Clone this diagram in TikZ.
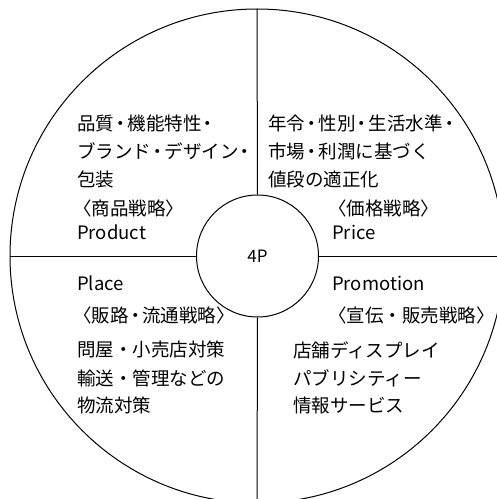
\documentclass[tikz,border=0pt]{standalone}
\usepackage{fontspec}
\setmainfont{Noto Sans CJK JP}
\newcommand\tdot{\kern-2.6pt・\kern-2.6pt}
\begin{document}
\begin{tikzpicture}[x=1pt,y=-1pt,
  ring/.style={draw,circle,line width=1pt,inner sep=0pt},
  divider/.style={line width=1pt},
  txt/.style={anchor=west,inner sep=0pt,font=\fontsize{18.5}{20}\selectfont}]
\useasboundingbox (0,0) rectangle (497,499);
\clip (0,0) rectangle (497,499);
\fill[white] (0,0) rectangle (497,499);
\node[ring,minimum size=494pt] (big) at (257,256) {};
\node[ring,minimum size=122pt,font=\fontsize{17}{20}\selectfont] (hub) at (257.5,256) {4P};
\draw[divider] (big.north) -- (hub.north);
\draw[divider] (hub.south) -- (big.south);
\draw[divider] (big.west) -- (hub.west);
\draw[divider] (hub.east) -- (big.east);
% Product
\node[txt] (p1) at (77,123) {品質\tdot 機能特性\tdot};
\node[txt] (p2) at (77,151) {ブランド\tdot デザイン\tdot};
\node[txt] (p3) at (77,179) {包装};
\node[txt] (p4) at (73,208) {〈商品戦略〉};
\node[txt] (p5) at (77,232) {Product};
% Price
\node[txt] (r1) at (268,123) {年令\tdot 性別\tdot 生活水準\tdot};
\node[txt] (r2) at (268,151) {市場\tdot 利潤に基づく};
\node[txt] (r3) at (268,179) {値段の適正化};
\node[txt] (r4) at (328,208) {〈価格戦略〉};
\node[txt] (r5) at (332,232) {Price};
% Place
\node[txt] (l1) at (77,283) {Place};
\node[txt] (l2) at (73,315) {〈販路\tdot 流通戦略〉};
\node[txt] (l3) at (77,349) {問屋・小売店対策};
\node[txt] (l4) at (77,378) {輸送・管理などの};
\node[txt] (l5) at (77,405) {物流対策};
% Promotion
\node[txt] (m1) at (332,283) {Promotion};
\node[txt] (m2) at (328,315) {〈宣伝・販売戦略〉};
\node[txt] (m3) at (293,350) {店舗ディスプレイ};
\node[txt] (m4) at (293,378) {パブリシティー};
\node[txt] (m5) at (293,405) {情報サービス};
\end{tikzpicture}
\end{document}
